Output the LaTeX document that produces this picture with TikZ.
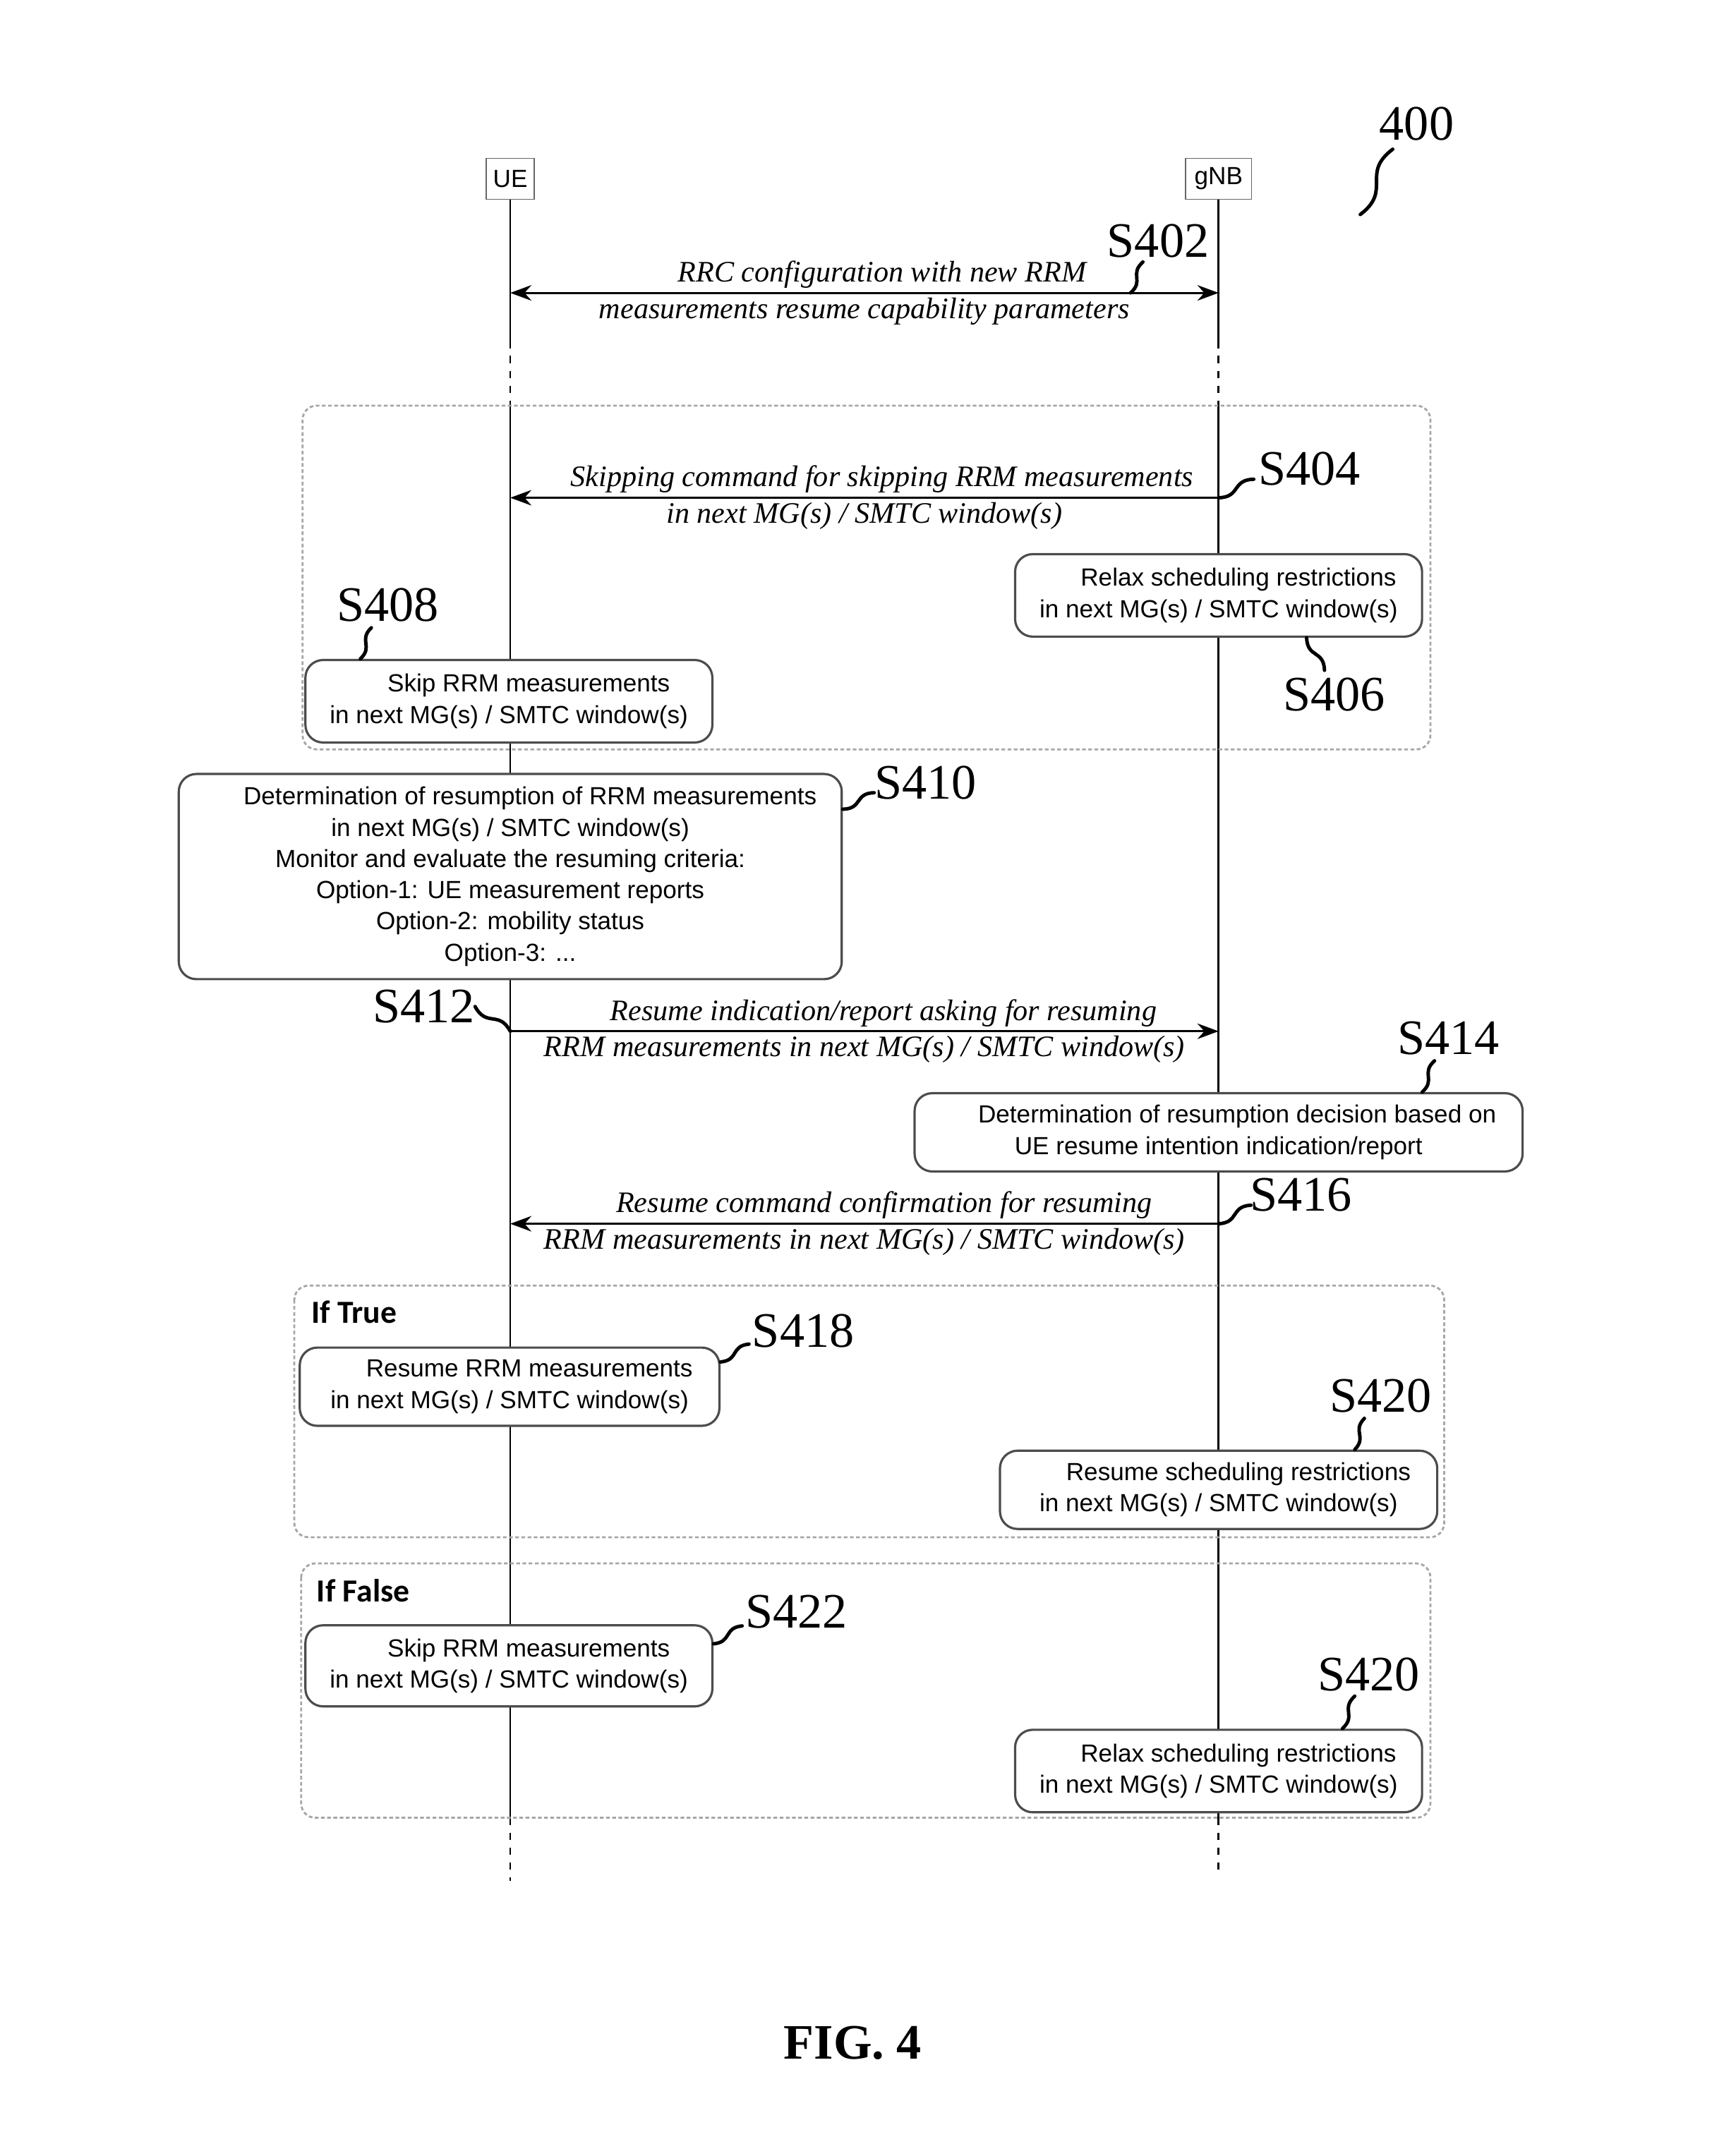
\documentclass[tikz,border=0pt]{standalone}
\usepackage{fontspec}
\setmainfont{Liberation Serif}
\setsansfont{Liberation Sans}
\newfontfamily\casefont{Carlito}
\usetikzlibrary{arrows.meta, calc}

\begin{document}
\begin{tikzpicture}[
	x=0.0195cm, y=-0.0195cm,
	head/.style={draw=gray!80!black, rectangle, minimum width=0.68cm, minimum height=0.58cm, inner sep=1pt, font=\sffamily\fontsize{10}{12}\selectfont},
	life/.style={black, line width=0.75pt},
	stepbox/.style={draw=gray!60!black, fill=white, rectangle, rounded corners=0.25cm, line width=0.9pt, align=center, inner sep=2pt, font=\sffamily\fontsize{10}{12.6}\selectfont},
	frame/.style={draw=gray!70, dash pattern=on 1.5pt off 1pt, rounded corners=0.2cm, line width=0.8pt},
	arrow/.style={-{Stealth[length=3mm, width=2.2mm]}, line width=0.8pt},
	both/.style={{Stealth[length=3mm, width=2.2mm]}-{Stealth[length=3mm, width=2.2mm]}, line width=0.8pt},
	msg/.style={font=\itshape\fontsize{12}{14}\selectfont, inner sep=1.5pt},
	tag/.style={font=\fontsize{20}{24}\selectfont, inner sep=0pt},
	case/.style={anchor=west, inner sep=0pt, font=\casefont\bfseries\fontsize{13}{15}\selectfont},
	leader/.style={line width=1.4pt, line cap=round, to path={.. controls ($(\tikztostart)!0.5!(\tikztotarget)!0.5!-90:(\tikztotarget)$) and ($(\tikztostart)!0.5!(\tikztotarget)!0.5!-90:(\tikztostart)$) .. (\tikztotarget)}}
	]

	\useasboundingbox (0,0) rectangle (1253,1568);

	% Figure number
	\node[tag] (l400) at (1030,90) {400};
	\coordinate (p400) at (989,156);
	\draw[leader] ($(l400.south west)+(10,6)$) to (p400);

	% Entities
	\node[head] (ue) at (371,130) {UE};
	\node[head, minimum width=0.94cm] (gnb) at (886,130) {gNB};

	% Lifelines
	\coordinate (ue1) at (371,248);
	\coordinate (ue2) at (371,295);
	\coordinate (ue3) at (371,1322);
	\coordinate (ue4) at (371,1368);
	\coordinate (gnb1) at (886,248);
	\coordinate (gnb2) at (886,295);
	\coordinate (gnb3) at (886,1322);
	\coordinate (gnb4) at (886,1362);
	\draw[life] (ue.south) -- (ue1);
	\draw[life, dashed] (ue1) -- (ue2);
	\draw[life] (ue2) -- (ue3);
	\draw[life, dashed] (ue3) -- (ue4);
	\draw[life] (gnb.south) -- (gnb1);
	\draw[life, dashed] (gnb1) -- (gnb2);
	\draw[life] (gnb2) -- (gnb3);
	\draw[life, dashed] (gnb3) -- (gnb4);

	% Groups
	\draw[frame] (220,295) rectangle (1040,545);
	\draw[frame] (214,935) rectangle (1050,1118);
	\draw[frame] (219,1137) rectangle (1040,1322);
	\node[case] (iftrue) at (226,954) {If True};
	\node[case] (iffalse) at (230,1157) {If False};

	% S402
	\coordinate (m402u) at (371,213);
	\coordinate (m402g) at (886,213);
	\draw[both] (m402u) -- (m402g)
	node[msg, midway, above, xshift=0.25cm] {RRC configuration with new RRM}
	node[msg, midway, below] {measurements resume capability parameters};
	\node[tag] (l402) at (842,175) {S402};
	\draw[leader] ($(l402.south)+(-11,3)$) to ($(m402g)+(-64,0)$);

	% S404
	\coordinate (m404u) at (371,362);
	\coordinate (m404g) at (886,362);
	\draw[arrow] (m404g) -- (m404u)
	node[msg, midway, above, xshift=0.25cm] {Skipping command for skipping RRM measurements}
	node[msg, midway, below] {in next MG(s) / SMTC window(s)};
	\node[tag] (l404) at (952,341) {S404};
	\draw[leader] ($(l404.south west)+(-3,-5)$) to (m404g);

	% S406
	\node[stepbox, minimum width=5.77cm, minimum height=1.17cm] (b406) at (886,433)
	{\hspace*{1.6em}Relax scheduling restrictions\\in next MG(s) / SMTC window(s)};
	\node[tag] (l406) at (970,505) {S406};
	\draw[leader] ($(l406.north)+(-7,-5)$) to ($(b406.south)+(64,0)$);

	% S408
	\node[stepbox, minimum width=5.77cm, minimum height=1.17cm] (b408) at (370,510)
	{\hspace*{1.6em}Skip RRM measurements\\in next MG(s) / SMTC window(s)};
	\node[tag] (l408) at (282,440) {S408};
	\draw[leader] ($(l408.south)+(-12,4)$) to ($(b408.north)+(-108,0)$);

	% S410
	\node[stepbox, minimum width=9.4cm, minimum height=2.91cm] (b410) at (371,637.5)
	{\hspace*{1.6em}Determination of resumption of RRM measurements\\
		in next MG(s) / SMTC window(s)\\
		Monitor and evaluate the resuming criteria:\\
		Option-1: UE measurement reports\\
		Option-2: mobility status\\
		Option-3: ...};
	\node[tag] (l410) at (673,569) {S410};
	\draw[leader] ($(l410.south west)+(0,-5)$) to ($(b410.east)+(0,-49)$);

	% S412
	\coordinate (m412u) at (371,750);
	\coordinate (m412g) at (886,750);
	\draw[arrow] (m412u) -- (m412g)
	node[msg, midway, above, xshift=0.27cm] {Resume indication/report asking for resuming}
	node[msg, midway, below] {RRM measurements in next MG(s) / SMTC window(s)};
	\node[tag] (l412) at (308,732) {S412};
	\draw[leader] (l412.east) to (m412u);

	% S414
	\node[stepbox, minimum width=8.62cm, minimum height=1.11cm] (b414) at (886,823.5)
	{\hspace*{1.5em}Determination of resumption decision based on\\UE resume intention indication/report};
	\node[tag] (l414) at (1053,755) {S414};
	\draw[leader] ($(l414.south)+(-10,4)$) to ($(b414.north)+(148,0)$);

	% S416
	\coordinate (m416u) at (371,890);
	\coordinate (m416g) at (886,890);
	\draw[arrow] (m416g) -- (m416u)
	node[msg, midway, above, xshift=0.28cm] {Resume command confirmation for resuming}
	node[msg, midway, below] {RRM measurements in next MG(s) / SMTC window(s)};
	\node[tag] (l416) at (946,869) {S416};
	\draw[leader] ($(l416.south west)+(1,-5)$) to (m416g);

	% If True: S418, S420
	\node[stepbox, minimum width=5.95cm, minimum height=1.11cm] (b418) at (370.5,1008.5)
	{\hspace*{1.6em}Resume RRM measurements\\in next MG(s) / SMTC window(s)};
	\node[tag] (l418) at (584,968) {S418};
	\draw[leader] ($(l418.south west)+(-2,-3)$) to ($(b418.east)+(0,-18)$);

	\node[stepbox, minimum width=6.2cm, minimum height=1.11cm] (b420a) at (886,1083.5)
	{\hspace*{1.6em}Resume scheduling restrictions\\in next MG(s) / SMTC window(s)};
	\node[tag] (l420a) at (1004,1015) {S420};
	\draw[leader] ($(l420a.south)+(-12,4)$) to ($(b420a.north)+(99,0)$);

	% If False: S422, S420
	\node[stepbox, minimum width=5.77cm, minimum height=1.15cm] (b422) at (370,1211.5)
	{\hspace*{1.6em}Skip RRM measurements\\in next MG(s) / SMTC window(s)};
	\node[tag] (l422) at (579,1172) {S422};
	\draw[leader] ($(l422.south west)+(-2,-2)$) to ($(b422.east)+(0,-16)$);

	\node[stepbox, minimum width=5.77cm, minimum height=1.17cm] (b420b) at (886,1288)
	{\hspace*{1.6em}Relax scheduling restrictions\\in next MG(s) / SMTC window(s)};
	\node[tag] (l420b) at (995,1218) {S420};
	\draw[leader] ($(l420b.south)+(-10,3)$) to ($(b420b.north)+(90,0)$);

	% Caption
	\node[font=\bfseries\fontsize{20}{24}\selectfont] (fig) at (620,1486) {FIG. 4};

\end{tikzpicture}
\end{document}
